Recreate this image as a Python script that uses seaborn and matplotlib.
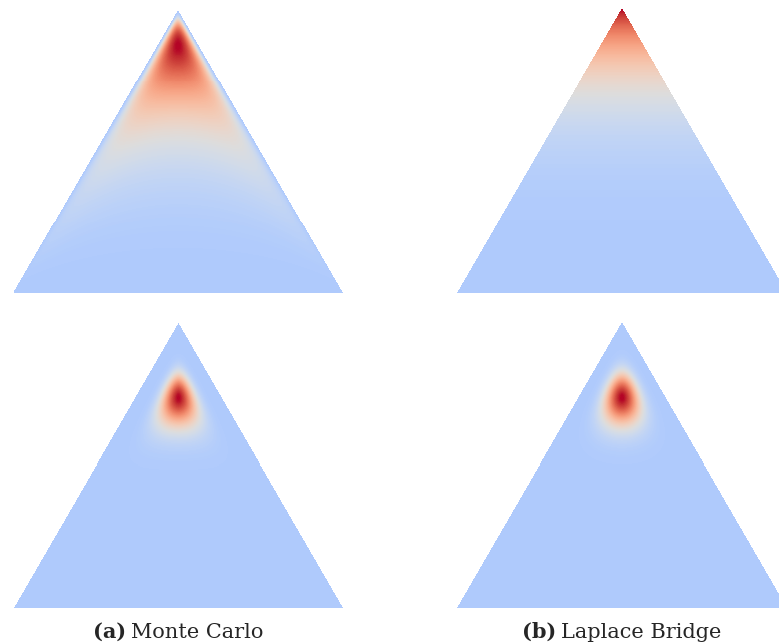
import numpy as np
import matplotlib
matplotlib.use("Agg")
import matplotlib.pyplot as plt
from matplotlib.colors import ListedColormap
import seaborn as sns

sns.set_theme(style="white")
plt.rcParams["font.family"] = ["DejaVu Serif"]

# Logistic-normal (softmax of Gaussian) parameters in log-ratio space
# y1 = log(l/t), y2 = log(r/t): mean, variance, correlation
mc_wide_params = [-1.50, 1.20, 0.17]
mc_sharp_params = [-1.59, 0.169, 0.16]

# Dirichlet concentrations (left, right, top) from the Laplace Bridge
lb_wide_alpha = [1.0, 1.0, 5.1]
lb_sharp_alpha = [7.5, 7.5, 37.0]

captions = [("(a)", "Monte Carlo"), ("(b)", "Laplace Bridge")]

W, H = 779, 644
H_TRI = np.sqrt(3) / 2
NX, NY = 330, 285


def simplex_grid(nx, ny):
    xs = (np.arange(nx) + 0.5) / nx
    ys = H_TRI * (1 - (np.arange(ny) + 0.5) / ny)
    X, Y = np.meshgrid(xs, ys)
    t = Y / H_TRI
    r = X - t / 2
    l = 1 - r - t
    mask = (l <= 0) | (r <= 0) | (t <= 0)
    eps = 1e-9
    return np.clip(l, eps, 1), np.clip(r, eps, 1), np.clip(t, eps, 1), mask


def logistic_normal(params, l, r, t):
    mu, var, rho = params
    y1 = np.log(l / t) - mu
    y2 = np.log(r / t) - mu
    q = (y1 ** 2 - 2 * rho * y1 * y2 + y2 ** 2) / (var * (1 - rho ** 2))
    return -0.5 * q - np.log(l) - np.log(r) - np.log(t)


def dirichlet(alpha, l, r, t):
    a_l, a_r, a_t = alpha
    return (a_l - 1) * np.log(l) + (a_r - 1) * np.log(r) + (a_t - 1) * np.log(t)


base = sns.color_palette("coolwarm", as_cmap=True)
cmap = ListedColormap(base(np.linspace(0.35, 1.0, 256)))

fig = plt.figure(figsize=(W / 100, H / 100), dpi=100)

# panel boxes in pixels: x_left, x_right, y_apex, y_base
panels = [
    (logistic_normal, mc_wide_params, (13.5, 342.5, 10, 293)),
    (dirichlet, lb_wide_alpha, (457, 787, 8.5, 293)),
    (logistic_normal, mc_sharp_params, (14, 343, 322, 608)),
    (dirichlet, lb_sharp_alpha, (457, 787, 322, 608)),
]

l, r, t, mask = simplex_grid(NX, NY)
for fn, params, (x0, x1, ya, yb) in panels:
    ax = fig.add_axes([x0 / W, 1 - yb / H, (x1 - x0) / W, (yb - ya) / H])
    logp = fn(params, l, r, t)
    logp = np.where(mask, -np.inf, logp)
    dens = np.exp(logp - logp[~mask].max())
    sns.heatmap(dens, ax=ax, cmap=cmap, vmin=0, vmax=1, mask=mask,
                cbar=False, xticklabels=False, yticklabels=False)
    ax.set_axis_off()

renderer = fig.canvas.get_renderer()
y_txt = 1 - 638 / H
for cx, (tag, name) in zip([178, 622], captions):
    t1 = fig.text(0, y_txt, tag, fontsize=15, fontweight="bold", va="baseline")
    t2 = fig.text(0, y_txt, name, fontsize=15, va="baseline")
    w1 = t1.get_window_extent(renderer).width
    w2 = t2.get_window_extent(renderer).width
    gap = 5
    left = cx - (w1 + gap + w2) / 2
    t1.set_x(left / W)
    t2.set_x((left + w1 + gap) / W)

fig.savefig("out.png", dpi=100)
